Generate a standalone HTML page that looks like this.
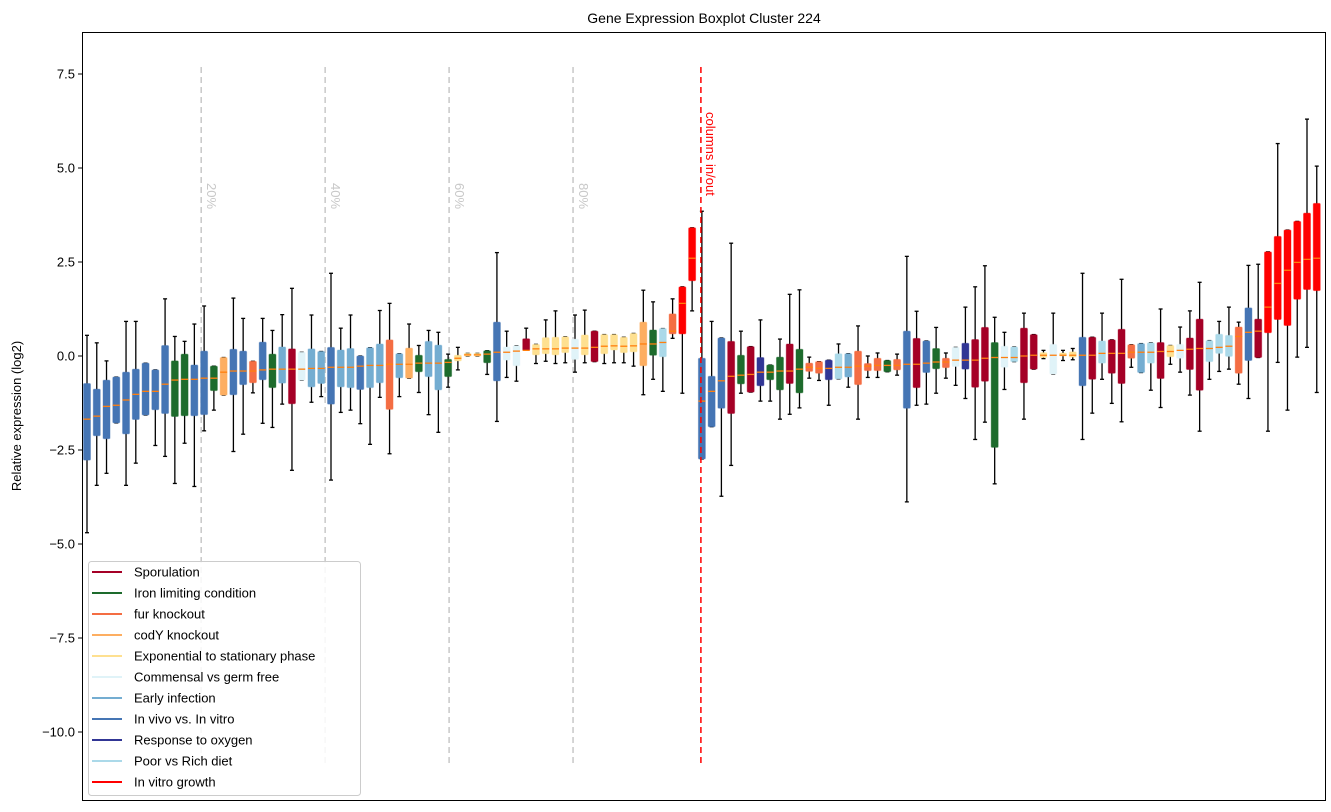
<!DOCTYPE html>
<html><head><meta charset="utf-8"><style>
body{margin:0;background:#fff;}
svg{display:block;font-family:"Liberation Sans",sans-serif;}
</style></head><body>
<svg id="chart" width="1331" height="812" xmlns="http://www.w3.org/2000/svg">
<rect width="1331" height="812" fill="#fff"/>
<text x="704" y="23" text-anchor="middle" font-size="14">Gene Expression Boxplot Cluster 224</text>
<text transform="translate(21,416) rotate(-90)" text-anchor="middle" font-size="13">Relative expression (log2)</text>
<g id="marks"></g>
<rect x="82.5" y="32.5" width="1243" height="768" fill="none" stroke="#000" stroke-width="1"/>
<g id="yaxis"></g>
<g id="legend"></g>
</svg>
<script>
const categories=["V","V","V","V","V","V","V","V","V","I","I","V","V","I","C","V","V","F","V","I","R","S","M","R","R","V","R","R","V","R","R","F","R","C","I","R","R","I","E","E","E","I","V","M","M","S","E","E","E","E","M","E","S","E","E","E","E","C","I","P","F","G","G",
"V","V","V","S","I","S","O","I","I","S","I","F","F","O","P","R","F","F","F","I","F","V","S","V","I","F","M","O","S","S","I","M","P","S","S","E","M","E","E","V","S","P","S","S","F","R","P","S","E","M","S","S","P","P","P","F","V","S","G","G","G","G","G","G"];
const lowWhisker=[-4.7,-3.44,-3.12,-1.78,-3.44,-2.85,-1.57,-2.38,-2.67,-3.39,-2.32,-3.47,-1.99,-1.44,-1.04,-2.54,-2.08,-0.98,-1.79,-1.9,-1.28,-3.04,-0.64,-1.23,-1.08,-3.3,-1.5,-1.44,-1.8,-2.35,-1.1,-2.6,-1.08,-0.59,-0.97,-1.56,-2.03,-0.83,-0.37,0,0,-0.49,-1.74,-0.57,-0.67,0.15,-0.2,-0.14,-0.2,-0.18,-0.43,-0.18,-0.15,-0.2,-0.18,-0.18,-0.27,-1.03,-0.62,-0.94,0.47,-0.99,1.2,
-2.74,-1.88,-3.73,-2.91,-0.99,-0.96,-1.2,-1.2,-1.68,-1.55,-1.38,-0.59,-0.65,-1.31,-0.61,-0.83,-1.68,-0.57,-0.57,-0.42,-0.51,-3.88,-1.31,-1.28,-0.99,-0.59,-0.78,-1.13,-2.22,-1.76,-3.4,-0.89,-0.15,-1.68,-0.35,-0.07,-0.48,-0.12,-0.1,-2.22,-1.52,-0.62,-1.26,-1.75,-0.3,-0.44,-0.91,-1.37,-0.22,-0.43,-1.04,-2.0,-0.62,-0.41,-0.35,-0.75,-1.13,-0.04,-2.0,-0.17,-1.44,-0.03,0.23,-0.97];
const q1Values=[-2.77,-2.12,-2.2,-1.78,-2.07,-1.69,-1.57,-1.43,-1.53,-1.61,-1.59,-1.59,-1.56,-0.92,-1.04,-1.03,-0.76,-0.71,-0.63,-0.84,-0.72,-1.27,-0.64,-0.82,-0.73,-1.28,-0.82,-0.84,-0.89,-0.84,-0.71,-1.42,-0.58,-0.59,-0.42,-0.55,-0.9,-0.55,-0.13,0,0,-0.18,-0.66,-0.11,-0.26,0.15,0.03,0.06,0.03,0.09,-0.09,0.03,-0.15,0.06,0.16,0.09,0.11,-0.26,0.02,-0.02,0.59,0.59,2.0,
-2.74,-1.88,-1.39,-1.53,-0.74,-0.96,-0.79,-0.63,-0.9,-0.73,-0.98,-0.41,-0.46,-0.63,-0.61,-0.56,-0.76,-0.39,-0.39,-0.42,-0.37,-1.39,-0.84,-0.44,-0.34,-0.31,-0.28,-0.35,-0.83,-0.67,-2.43,-0.3,-0.15,-0.71,-0.35,-0.04,-0.48,0,-0.03,-0.79,-0.62,-0.19,-0.46,-0.73,-0.06,-0.44,-0.19,-0.6,-0.02,-0.06,-0.36,-0.91,-0.15,0.07,-0.01,-0.46,-0.12,-0.04,0.62,0.97,0.81,1.51,1.77,1.74];
const medianValues=[-1.68,-1.6,-1.34,-1.31,-1.17,-1.02,-0.94,-0.94,-0.75,-0.64,-0.62,-0.62,-0.59,-0.59,-0.43,-0.4,-0.4,-0.4,-0.37,-0.35,-0.35,-0.35,-0.35,-0.33,-0.33,-0.3,-0.3,-0.3,-0.27,-0.25,-0.25,-0.22,-0.22,-0.22,-0.19,-0.19,-0.19,-0.17,-0.06,0.03,0.03,0.05,0.1,0.1,0.13,0.15,0.19,0.19,0.19,0.21,0.21,0.21,0.23,0.26,0.27,0.26,0.27,0.32,0.32,0.36,0.66,1.4,2.6,
-1.2,-0.94,-0.66,-0.54,-0.51,-0.49,-0.43,-0.43,-0.4,-0.4,-0.35,-0.3,-0.33,-0.33,-0.3,-0.3,-0.27,-0.27,-0.25,-0.25,-0.25,-0.22,-0.22,-0.19,-0.16,-0.16,-0.11,-0.11,-0.11,-0.06,-0.04,-0.04,-0.04,0,0.02,0.02,0.02,0.02,0.02,0.02,0.02,0.07,0.07,0.07,0.1,0.1,0.1,0.12,0.12,0.15,0.18,0.2,0.2,0.23,0.26,0.52,0.63,0.66,1.3,1.93,2.28,2.49,2.57,2.6];
const q3Values=[-0.73,-0.88,-0.64,-0.56,-0.43,-0.35,-0.19,-0.37,0.28,-0.13,0.05,-0.24,0.13,-0.27,-0.04,0.18,0.13,-0.14,0.37,0.05,0.24,0.19,0.1,0.19,0.12,0.23,0.16,0.2,0,0.22,0.32,0.43,0.06,0.21,0.02,0.39,0.29,-0.09,0.02,0.07,0.07,0.14,0.9,0.24,0.27,0.46,0.31,0.49,0.5,0.51,0.45,0.56,0.66,0.57,0.57,0.5,0.6,0.9,0.69,0.73,1.12,1.84,3.41,
-0.06,-0.54,0.48,0.39,0.02,0.25,-0.04,-0.24,-0.03,0.32,0.18,-0.19,-0.15,-0.11,0.06,0.06,0.13,-0.2,-0.06,-0.12,-0.09,0.66,0.47,0.4,0.2,-0.06,0.23,0.34,0.44,0.76,0.36,0.26,0.24,0.74,0.57,0.09,0.31,0.08,0.11,0.5,0.5,0.4,0.43,0.71,0.3,0.33,0.35,0.36,0.28,0.31,0.48,0.98,0.41,0.58,0.55,0.77,1.28,0.98,2.77,3.18,3.35,3.58,3.8,4.06];
const highWhisker=[0.55,0.35,-0.13,-0.56,0.92,0.92,-0.19,-0.37,1.52,0.52,0.39,0.85,1.33,-0.27,-0.04,1.54,1.0,-0.14,1.0,0.68,1.1,1.8,0.1,1.09,0.12,2.2,0.74,1.09,0,0.22,1.21,1.4,0.06,0.85,0.28,0.68,0.63,0.05,0.23,0.07,0.07,0.14,2.75,0.66,0.27,0.74,0.31,0.96,1.2,0.51,1.09,1.22,0.66,0.57,0.57,0.5,0.6,1.75,1.44,0.73,1.52,1.84,3.41,
3.85,0.92,0.48,3.0,0.66,0.25,0.96,-0.24,0.45,1.64,1.76,-0.03,-0.15,-0.11,0.32,0.06,0.8,0,0.08,-0.12,0.05,2.65,1.19,0.4,0.76,0.08,0.23,1.3,1.84,2.4,1.03,0.63,0.24,1.14,0.57,0.15,1.14,0.15,0.2,2.2,0.5,1.14,0.43,2.04,0.3,0.33,0.35,1.25,0.28,0.77,1.2,1.96,0.41,0.92,1.3,0.9,2.41,2.44,2.77,5.65,3.35,3.58,6.3,5.05];
const yTicks=[7.5,5.0,2.5,0.0,-2.5,-5.0,-7.5,-10.0];
const yTickLabels=["7.5","5.0","2.5","0.0","−2.5","−5.0","−7.5","−10.0"];
const percentMarks=[20,40,60,80];
const legendNames=["Sporulation","Iron limiting condition","fur knockout","codY knockout","Exponential to stationary phase","Commensal vs germ free","Early infection","In vivo vs. In vitro","Response to oxygen","Poor vs Rich diet","In vitro growth"];
const legendKeys=["S","I","F","C","E","M","R","V","O","P","G"];
const colorMap={S:"#a50026",I:"#1d6b2c",F:"#f46d43",C:"#fdae61",E:"#fee090",M:"#e0f3f8",R:"#74add1",V:"#4575b4",O:"#313695",P:"#abd9e9",G:"#ff0000"};
const splitIndex=62.9;

const NS="http://www.w3.org/2000/svg";
const yScale=v=>356-v*37.6;
const xScale=i=>87+i*9.76;
function mk(tag,attrs,parent){const e=document.createElementNS(NS,tag);for(const k in attrs)e.setAttribute(k,attrs[k]);parent.appendChild(e);return e;}
const marks=document.getElementById("marks");
const n=categories.length;
percentMarks.forEach(p=>{
  const x=xScale(n/2*p/100-1);
  const l=mk("line",{x1:x,x2:x,y1:67,y2:767,stroke:"#c8c8c8","stroke-width":1.5,"stroke-dasharray":"6,4"},marks);
  
  
  const t=mk("text",{transform:`translate(${x+6},183) rotate(90)`,fill:"#c8c8c8","font-size":13},marks);
  t.textContent=p+"%";
  
  
});
for(let i=0;i<n;i++){
  const g=mk("g",{},marks);
  
  
  const x=xScale(i),c=colorMap[categories[i]];
  const yl=yScale(lowWhisker[i]),yh=yScale(highWhisker[i]),y1=yScale(q1Values[i]),y3=yScale(q3Values[i]),ym=yScale(medianValues[i]);
  mk("line",{x1:x,x2:x,y1:yh,y2:yl,stroke:"#000","stroke-width":1.3},g);
  mk("line",{x1:x-2,x2:x+2,y1:yh,y2:yh,stroke:"#000","stroke-width":1.3},g);
  mk("line",{x1:x-2,x2:x+2,y1:yl,y2:yl,stroke:"#000","stroke-width":1.3},g);
  mk("rect",{x:x-3.5,y:y3,width:7,height:Math.max(1,y1-y3),fill:c,stroke:c,"stroke-opacity":0.4,"stroke-width":1,rx:1},g);
  mk("line",{x1:x-3.5,x2:x+3.5,y1:ym,y2:ym,stroke:"#ff7f0e","stroke-width":1.3},g);
}
const sx=xScale(splitIndex);
const sl=mk("line",{x1:sx,x2:sx,y1:67,y2:767,stroke:"#ff0000","stroke-width":1.5,"stroke-dasharray":"6,4"},marks);


const st=mk("text",{transform:`translate(${sx+5},112) rotate(90)`,fill:"#ff0000","font-size":13},marks);
st.textContent="columns in/out";


const ya=document.getElementById("yaxis");
yTicks.forEach((v,i)=>{
  const y=yScale(v);
  const tl=mk("line",{x1:78,x2:82,y1:y,y2:y,stroke:"#000"},ya);
  
  
  const t=mk("text",{x:75,y:y+4.5,"text-anchor":"end","font-size":13},ya);
  t.textContent=yTickLabels[i];
  
  
});
const lg=document.getElementById("legend");
const lb=mk("rect",{x:88.5,y:561.5,width:272,height:234,rx:3,fill:"#fff","fill-opacity":0.85,stroke:"#ccc"},lg);


legendNames.forEach((nm,i)=>{
  const y=572+i*21;
  const g=mk("g",{},lg);
  
  
  mk("line",{x1:92,x2:122,y1:y,y2:y,stroke:colorMap[legendKeys[i]],"stroke-width":2},g);
  const t=mk("text",{x:134,y:y+4.5,"font-size":13},g);
  t.textContent=nm;
});
</script>
</body></html>
